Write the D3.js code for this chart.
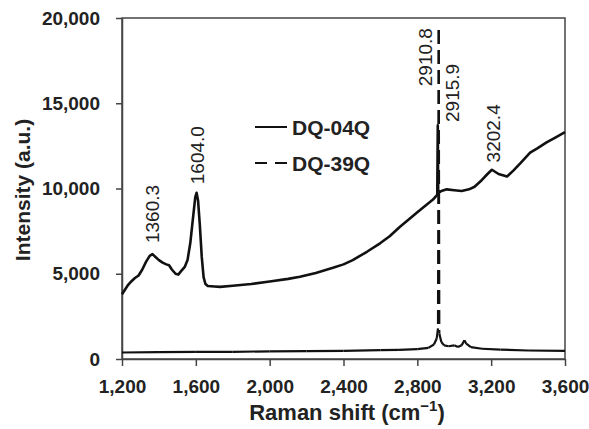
<!DOCTYPE html>
<html>
<head>
<meta charset="utf-8">
<script src="https://cdn.jsdelivr.net/npm/d3@7"></script>
<style>
  body { margin: 0; background: #fff; }
  svg { font-family: "Liberation Sans", Arial, sans-serif; }
</style>
</head>
<body>
<script>
// DQ-04Q (solid)
var shift04 = [1200, 1215, 1230, 1250, 1270, 1290, 1310, 1330, 1350, 1365, 1380, 1400, 1420, 1440, 1455,
  1470, 1490, 1505, 1520, 1540, 1555, 1570, 1585, 1597, 1604, 1612, 1622, 1632, 1642, 1652, 1665,
  1700, 1731, 1800, 1900, 2000, 2100, 2164, 2250, 2343, 2400, 2450, 2527, 2600, 2650, 2706, 2750,
  2800, 2850, 2885, 2905, 2908, 2910.8, 2913, 2930, 2960, 3000, 3040, 3080, 3110, 3150, 3180, 3204,
  3240, 3286, 3320, 3360, 3411, 3450, 3500, 3550, 3600];
var int04 = [3800, 4050, 4300, 4550, 4750, 4900, 5250, 5700, 6050, 6150, 6000, 5800, 5650, 5550, 5500,
  5250, 5000, 4950, 5150, 5400, 5800, 6800, 8300, 9500, 9750, 9300, 7800, 6000, 4800, 4400, 4280,
  4250, 4230, 4300, 4400, 4550, 4700, 4820, 5050, 5350, 5550, 5800, 6290, 6800, 7200, 7760, 8150,
  8600, 9050, 9350, 9600, 9650, 13700, 9750, 9850, 9950, 9900, 9850, 9950, 10100, 10500, 10850, 11100,
  10850, 10700, 11050, 11500, 12100, 12350, 12700, 13000, 13300];

// DQ-39Q (dashed)
var shift39 = [1200, 1400, 1600, 1800, 2000, 2200, 2400, 2600, 2700, 2800, 2860, 2890, 2905, 2912,
  2915.9, 2919, 2930, 2945, 2970, 3000, 3020, 3040, 3055, 3065, 3090, 3150, 3250, 3400, 3600];
var int39 = [380, 400, 420, 420, 450, 460, 480, 520, 540, 580, 650, 850, 1200, 1800,
  19300, 1500, 1000, 800, 750, 800, 700, 800, 1100, 900, 700, 600, 550, 500, 480];

var xTicks = [1200, 1600, 2000, 2400, 2800, 3200, 3600];
var yTicks = [0, 5000, 10000, 15000, 20000];

var peakLabels = ["1360.3", "1604.0", "2910.8", "2915.9", "3202.4"];
var peakLabelPos = [[1362, 6800], [1606, 10250], [2845, 16000], [2990, 13900], [3212, 11530]];

var seriesNames = ["DQ-04Q", "DQ-39Q"];

var W = 589, H = 429;
var m = {left: 122, right: 24, top: 18, bottom: 70};

var svg = d3.select("body").append("svg")
    .attr("width", W)
    .attr("height", H);

var x = d3.scaleLinear().domain([1200, 3600]).range([m.left, W - m.right]);
var y = d3.scaleLinear().domain([0, 20000]).range([H - m.bottom, m.top]);

var axisColor = "#444";
var textColor = "#222";

// frame
svg.append("rect")
    .attr("x", x(1200)).attr("y", y(20000))
    .attr("width", x(3600) - x(1200)).attr("height", y(0) - y(20000))
    .attr("fill", "none").attr("stroke", axisColor).attr("stroke-width", 1.5);

var gx = svg.append("g")
    .attr("transform", "translate(0," + y(0) + ")")
    .call(d3.axisBottom(x).tickValues(xTicks).tickFormat(d3.format(",")).tickSize(7).tickSizeOuter(0).tickPadding(14));
var gy = svg.append("g")
    .attr("transform", "translate(" + x(1200) + ",0)")
    .call(d3.axisLeft(y).tickValues(yTicks).tickFormat(d3.format(",")).tickSize(6).tickSizeOuter(0).tickPadding(16));

[gx, gy].forEach(function(g) {
  g.select(".domain").attr("stroke", axisColor).attr("stroke-width", 1.5);
  g.selectAll(".tick line").attr("stroke", axisColor).attr("stroke-width", 1.5);
  g.selectAll(".tick text")
    .attr("fill", textColor)
    .style("font-size", "19px")
    .style("font-weight", "bold");
});

var line = d3.line()
    .x(function(d) { return x(d[0]); })
    .y(function(d) { return y(d[1]); });

var data04 = shift04.map(function(s, i) { return [s, int04[i]]; });
var data39 = shift39.map(function(s, i) { return [s, int39[i]]; });

svg.append("path")
    .datum(data04)
    .attr("d", line)
    .attr("fill", "none")
    .attr("stroke", "#111")
    .attr("stroke-width", 2.6)
    .attr("stroke-linejoin", "round");

// dashed series: long steep segments show dashes, short noisy ones stay solid (Excel-like)
// each segment is drawn from its higher end so the dashes of the spike line up
var segs = d3.pairs(data39).map(function(p) {
  return p[0][1] >= p[1][1] ? p : [p[1], p[0]];
});
svg.append("g").selectAll("line")
    .data(segs)
    .enter().append("line")
    .attr("x1", function(d) { return x(d[0][0]); })
    .attr("y1", function(d) { return y(d[0][1]); })
    .attr("x2", function(d) { return x(d[1][0]); })
    .attr("y2", function(d) { return y(d[1][1]); })
    .attr("stroke", "#111")
    .attr("stroke-width", 2.2)
    .attr("stroke-linecap", "butt")
    .attr("stroke-dasharray", function(d) {
      return Math.abs(y(d[0][1]) - y(d[1][1])) > 30 ? "14,6" : null;
    });

// peak labels
svg.append("g").selectAll("text")
    .data(peakLabels)
    .enter().append("text")
    .attr("transform", function(d, i) {
      return "translate(" + x(peakLabelPos[i][0]) + "," + y(peakLabelPos[i][1]) + ") rotate(-90)";
    })
    .attr("dy", "0.35em")
    .attr("fill", textColor)
    .style("font-size", "19px")
    .text(function(d) { return d; });

// legend
var legend = svg.append("g");
var legY = [127, 163];
legend.selectAll("line")
    .data(seriesNames)
    .enter().append("line")
    .attr("x1", 255).attr("x2", 287)
    .attr("y1", function(d, i) { return legY[i]; })
    .attr("y2", function(d, i) { return legY[i]; })
    .attr("stroke", "#111")
    .attr("stroke-width", 2)
    .attr("stroke-dasharray", function(d, i) { return i === 1 ? "12,8" : null; });
legend.selectAll("text")
    .data(seriesNames)
    .enter().append("text")
    .attr("x", 292)
    .attr("y", function(d, i) { return legY[i] + 8; })
    .attr("fill", textColor)
    .style("font-size", "21px")
    .style("font-weight", "bold")
    .text(function(d) { return d; });

// axis titles
svg.append("text")
    .attr("transform", "translate(30," + 190 + ") rotate(-90)")
    .attr("text-anchor", "middle")
    .attr("fill", textColor)
    .style("font-size", "21px")
    .style("font-weight", "bold")
    .text("Intensity (a.u.)");

var xt = svg.append("text")
    .attr("x", 347)
    .attr("y", 420)
    .attr("text-anchor", "middle")
    .attr("fill", textColor)
    .style("font-size", "22px")
    .style("font-weight", "bold");
xt.append("tspan").text("Raman shift (cm");
xt.append("tspan").attr("dy", "-9").style("font-size", "15px").text("\u22121");
xt.append("tspan").attr("dy", "9").text(")");
</script>
</body>
</html>
